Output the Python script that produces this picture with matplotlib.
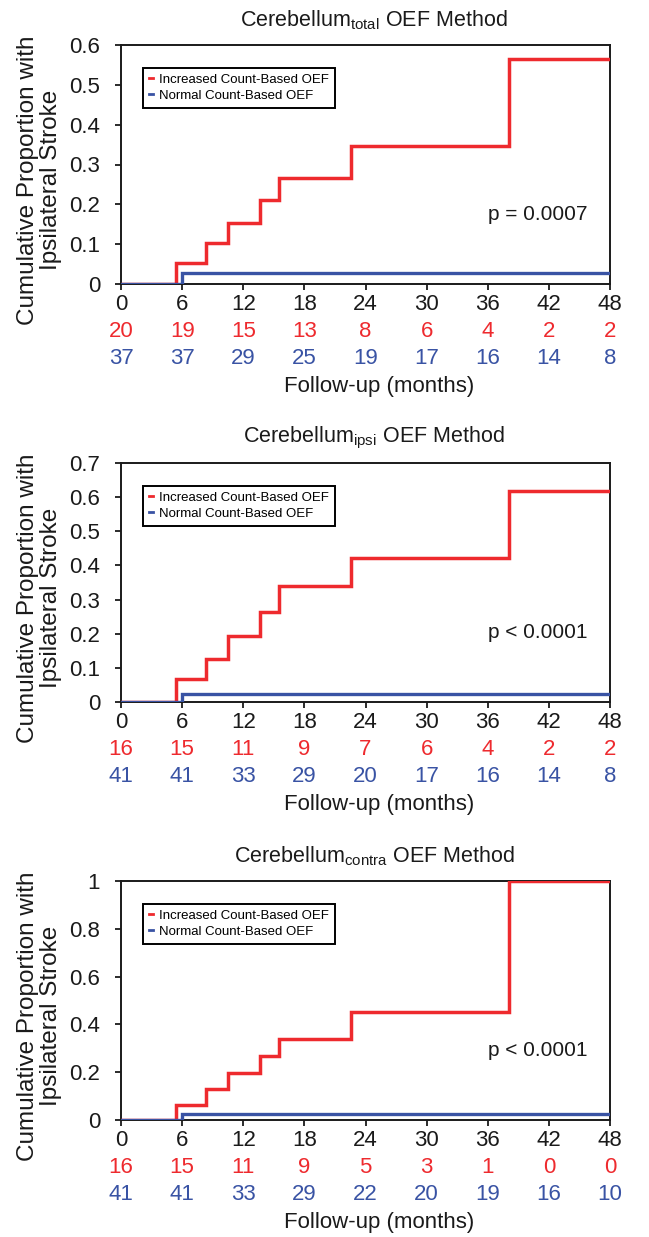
import matplotlib
matplotlib.use("Agg")
import matplotlib.pyplot as plt
from matplotlib.lines import Line2D
from matplotlib import transforms

plt.rcParams["font.family"] = ["Liberation Sans", "DejaVu Sans"]
plt.rcParams["mathtext.fontset"] = "custom"
plt.rcParams["mathtext.rm"] = "Liberation Sans"

RED = "#EE2A2E"
BLUE = "#3953A4"

# -----------------------------
# Data
# -----------------------------
MONTH_TICKS = [0, 6, 12, 18, 24, 30, 36, 42, 48]

TITLES = [
    r"Cerebellum$_{\mathrm{total}}$ OEF Method",
    r"Cerebellum$_{\mathrm{ipsi}}$ OEF Method",
    r"Cerebellum$_{\mathrm{contra}}$ OEF Method",
]
P_VALUES = ["p = 0.0007", "p < 0.0001", "p < 0.0001"]

RED_TIMES = [0, 5.4, 8.3, 10.5, 13.6, 15.5, 22.6, 38.1, 48]
RED_TOTAL = [0, 0.052, 0.102, 0.154, 0.211, 0.267, 0.347, 0.564, 0.564]
RED_IPSI = [0, 0.066, 0.125, 0.194, 0.264, 0.341, 0.423, 0.617, 0.617]
RED_CONTRA = [0, 0.063, 0.129, 0.196, 0.269, 0.340, 0.450, 1.0, 1.0]

BLUE_TIMES = [0, 6.0, 48]
BLUE_TOTAL = [0, 0.028, 0.028]
BLUE_IPSI = [0, 0.023, 0.023]
BLUE_CONTRA = [0, 0.025, 0.025]

AT_RISK_RED_TOTAL = [20, 19, 15, 13, 8, 6, 4, 2, 2]
AT_RISK_BLUE_TOTAL = [37, 37, 29, 25, 19, 17, 16, 14, 8]
AT_RISK_RED_IPSI = [16, 15, 11, 9, 7, 6, 4, 2, 2]
AT_RISK_BLUE_IPSI = [41, 41, 33, 29, 20, 17, 16, 14, 8]
AT_RISK_RED_CONTRA = [16, 15, 11, 9, 5, 3, 1, 0, 0]
AT_RISK_BLUE_CONTRA = [41, 41, 33, 29, 22, 20, 19, 16, 10]

Y_LIMITS = [0.6, 0.7, 1.0]
Y_TICKS = [
    [0, 0.1, 0.2, 0.3, 0.4, 0.5, 0.6],
    [0, 0.1, 0.2, 0.3, 0.4, 0.5, 0.6, 0.7],
    [0, 0.2, 0.4, 0.6, 0.8, 1],
]
Y_TICK_LABELS = [
    ["0", "0.1", "0.2", "0.3", "0.4", "0.5", "0.6"],
    ["0", "0.1", "0.2", "0.3", "0.4", "0.5", "0.6", "0.7"],
    ["0", "0.2", "0.4", "0.6", "0.8", "1"],
]

red_series = [RED_TOTAL, RED_IPSI, RED_CONTRA]
blue_series = [BLUE_TOTAL, BLUE_IPSI, BLUE_CONTRA]
red_at_risk = [AT_RISK_RED_TOTAL, AT_RISK_RED_IPSI, AT_RISK_RED_CONTRA]
blue_at_risk = [AT_RISK_BLUE_TOTAL, AT_RISK_BLUE_IPSI, AT_RISK_BLUE_CONTRA]

# -----------------------------
# Layout (fractions of figure)
# -----------------------------
W, H = 649, 1237
fig = plt.figure(figsize=(W / 100, H / 100), dpi=100)

LEFT = 121 / W
WIDTH = 489 / W
AX_HEIGHT = 239 / H
BOTTOMS = [1 - 284 / H, 1 - 702 / H, 1 - 1120 / H]

FS = 16
INK = "#1a1a1a"

for i in range(3):
    ax = fig.add_axes([LEFT, BOTTOMS[i], WIDTH, AX_HEIGHT])

    ax.plot(RED_TIMES, red_series[i], drawstyle="steps-post", color=RED,
            linewidth=2.5, solid_joinstyle="miter", zorder=3)
    ax.plot(BLUE_TIMES, blue_series[i], drawstyle="steps-post", color=BLUE,
            linewidth=2.4, solid_joinstyle="miter", zorder=4)

    ax.set_xlim(0, 48)
    ax.set_ylim(0, Y_LIMITS[i])
    ax.set_xticks(MONTH_TICKS)
    ax.set_xticklabels([str(m) for m in MONTH_TICKS])
    ax.set_yticks(Y_TICKS[i])
    ax.set_yticklabels(Y_TICK_LABELS[i])

    for spine in ax.spines.values():
        spine.set_linewidth(1.4)
        spine.set_color(INK)
    ax.tick_params(axis="both", direction="out", length=4, width=1.3,
                   labelsize=FS, colors=INK)
    ax.tick_params(axis="x", pad=3)
    ax.tick_params(axis="y", pad=11)

    # title sits slightly right of the axes centre in the original
    ax.text(0.518, 1.0 + 25 / 239, TITLES[i], transform=ax.transAxes,
            ha="center", va="center", fontsize=15.5, color=INK)
    ax.set_ylabel("Cumulative Proportion with\nIpsilateral Stroke",
                  fontsize=17.5, color=INK, linespacing=1.1)
    ax.yaxis.set_label_coords(-0.12, 0.435)

    # numbers at risk under each month tick
    trans = transforms.blended_transform_factory(ax.transData, ax.transAxes)
    for m, r, b in zip(MONTH_TICKS, red_at_risk[i], blue_at_risk[i]):
        ax.text(m, -0.197, str(r), transform=trans, ha="center", va="center",
                fontsize=FS, color=RED)
        ax.text(m, -0.31, str(b), transform=trans, ha="center", va="center",
                fontsize=FS, color=BLUE)
    ax.text(0.528, -0.428, "Follow-up (months)", transform=ax.transAxes,
            ha="center", va="center", fontsize=16, color=INK)

    ax.text(0.955, 0.289, P_VALUES[i], transform=ax.transAxes, ha="right",
            va="center", fontsize=15, color=INK)

    handles = [
        Line2D([], [], color=RED, linewidth=2),
        Line2D([], [], color=BLUE, linewidth=2),
    ]
    leg = ax.legend(handles, ["Increased Count-Based OEF", "Normal Count-Based OEF"],
                    loc="upper left", bbox_to_anchor=(0.045, 0.905),
                    fontsize=9.5, handlelength=0.3, handletextpad=0.5,
                    borderpad=0.45, labelspacing=0.3, fancybox=False,
                    framealpha=1, edgecolor="black", borderaxespad=0)
    leg.get_frame().set_linewidth(1.4)

fig.savefig("out.png", dpi=100)
